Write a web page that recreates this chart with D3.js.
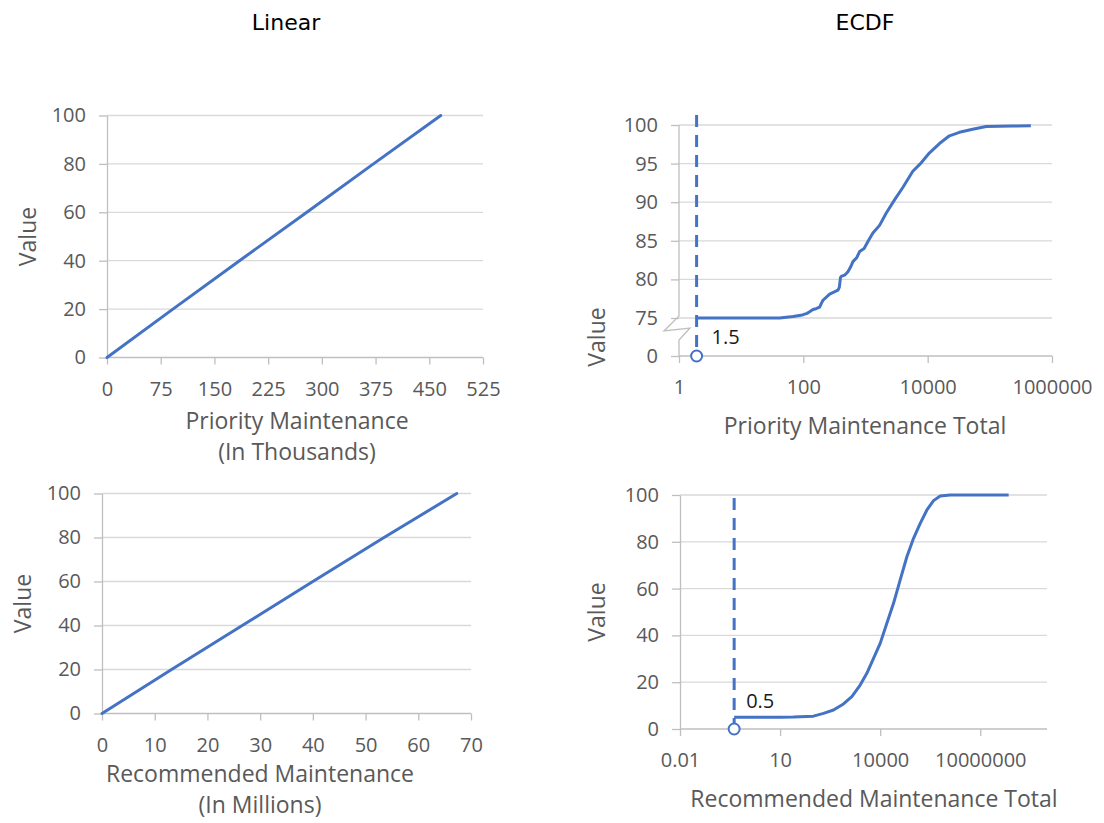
<!DOCTYPE html>
<html>
<head>
<meta charset="utf-8">
<script src="https://cdn.jsdelivr.net/npm/d3@7"></script>
<style>
  html, body { margin: 0; padding: 0; background: #fff; }
  svg { display: block; }
  .tick text { font-family: "Open Sans", sans-serif; font-size: 20px; fill: #595959; }
  .atitle { font-family: "Open Sans", sans-serif; font-size: 23px; fill: #595959; }
  .ptitle { font-family: "DejaVu Sans", sans-serif; font-size: 22px; fill: #000; }
  .ann { font-family: "Open Sans", sans-serif; font-size: 20px; fill: #1a1a1a; }
</style>
</head>
<body>
<svg id="chart" width="1104" height="823"></svg>
<script>
// ---------- data ----------
const panelTitles = ["Linear", "ECDF"];

// Linear – Priority Maintenance (in thousands)
const priorityLinX = [0, 92, 185, 279, 372, 466];
const priorityLinY = [0, 20, 40, 60, 80, 100];
const priorityLinTicksX = [0, 75, 150, 225, 300, 375, 450, 525];

// Linear – Recommended Maintenance (in millions)
const recommendedLinX = [0, 13.2, 26.6, 40.0, 53.5, 67.3];
const recommendedLinY = [0, 20, 40, 60, 80, 100];
const recommendedLinTicksX = [0, 10, 20, 30, 40, 50, 60, 70];

const linTicksY = [0, 20, 40, 60, 80, 100];

// ECDF – Priority Maintenance Total
const priorityEcdfX = [1.92, 41.7, 68.4, 96.6, 115, 126, 143, 160, 183, 195, 207, 265, 361, 380, 395, 408, 470, 522, 575, 628, 720, 804, 950, 1094, 1315, 1683, 2158, 2931, 3981, 5768, 7870, 10715, 15488, 22387, 32359, 52966, 87096, 232274, 457088];
const priorityEcdfY = [75, 75, 75.2, 75.4, 75.6, 75.8, 76.1, 76.2, 76.4, 76.9, 77.3, 78.1, 78.6, 79.0, 80.2, 80.4, 80.6, 81.0, 81.6, 82.3, 82.8, 83.6, 84.0, 84.9, 86.0, 87.0, 88.6, 90.3, 91.9, 94.0, 95.1, 96.4, 97.6, 98.6, 99.05, 99.44, 99.8, 99.87, 99.9];
const priorityEcdfTicksX = [1, 100, 10000, 1000000];
const priorityEcdfTicksY = [0, 75, 80, 85, 90, 95, 100];
const priorityMarker = 1.92;
const priorityMarkerLabel = "1.5";

// ECDF – Recommended Maintenance Total
const recommendedEcdfX = [0.42, 10, 25, 100, 200, 398, 794, 1413, 2512, 3981, 6310, 10000, 15849, 25119, 39811, 63096, 100000, 158489, 251189, 398107, 630957, 1258925, 70794578];
const recommendedEcdfY = [5, 5.0, 5.1, 5.5, 6.7, 8.1, 10.7, 13.8, 18.8, 23.8, 30.2, 36.6, 45.2, 53.7, 63.7, 73.6, 81.5, 87.9, 93.6, 97.6, 99.6, 100, 100];
const recommendedEcdfTicksX = [0.01, 10, 10000, 10000000];
const recommendedEcdfTicksY = [0, 20, 40, 60, 80, 100];
const recommendedMarker = 0.42;
const recommendedMarkerLabel = "0.5";

const axisTitles = {
  tl: ["Priority Maintenance", "(In Thousands)"],
  bl: ["Recommended Maintenance", "(In Millions)"],
  tr: ["Priority Maintenance Total"],
  br: ["Recommended Maintenance Total"]
};

// ---------- style ----------
const BLUE = "#4472C4";
const GRID = "#d9d9d9";
const AXIS = "#bfbfbf";

const svg = d3.select("#chart");

// panel titles
svg.append("text").attr("class", "ptitle").attr("x", 286).attr("y", 30).attr("text-anchor", "middle").text(panelTitles[0]);
svg.append("text").attr("class", "ptitle").attr("x", 865).attr("y", 30).attr("text-anchor", "middle").text(panelTitles[1]);

function styleAxis(g) {
  g.select(".domain").attr("stroke", AXIS).attr("stroke-width", 1.3);
  g.selectAll(".tick line").attr("stroke", AXIS).attr("stroke-width", 1.3);
}

function drawPanel(cfg) {
  const g = svg.append("g");
  const x = cfg.x, y = cfg.y;
  const [x0, x1] = x.range();
  // gridlines
  g.selectAll(".grid").data(cfg.yTicks.filter(d => d !== cfg.yTicks[0])).join("line")
    .attr("x1", x0).attr("x2", x1)
    .attr("y1", d => y(d)).attr("y2", d => y(d))
    .attr("stroke", GRID).attr("stroke-width", 1.3);

  // y axis
  const ya = g.append("g").attr("transform", `translate(${x0},0)`)
    .call(d3.axisLeft(y).tickValues(cfg.yTicks).tickSizeInner(8).tickSizeOuter(0).tickPadding(13).tickFormat(d => String(d)));
  styleAxis(ya);
  if (cfg.yBreak) {
    ya.select(".domain").remove();
    const yTop = y(cfg.yTicks[cfg.yTicks.length - 1]);
    const yb = cfg.yBreak;
    g.append("path")
      .attr("d", `M${x0},${yTop} L${x0},${yb - 6} L${x0 - 15},${yb + 9} L${x0 + 11},${yb + 6} L${x0},${yb + 18} L${x0},${y(0)}`)
      .attr("fill", "none").attr("stroke", AXIS).attr("stroke-width", 1.3);
  }

  // x axis
  const xa = g.append("g").attr("transform", `translate(0,${y.range()[0]})`)
    .call(d3.axisBottom(x).tickValues(cfg.xTicks).tickSizeInner(7).tickSizeOuter(0).tickPadding(17).tickFormat(d => String(d)));
  styleAxis(xa);
  xa.select(".domain").attr("d", `M${x0},0H${x1}`);

  // y axis title
  g.append("text").attr("class", "atitle")
    .attr("transform", `translate(${cfg.yTitleX},${(y.range()[0] + y.range()[1]) / 2}) rotate(-90)`)
    .attr("text-anchor", "middle").attr("dy", "0.35em").text("Value");
  // x axis title
  cfg.xTitle.forEach((t, i) => {
    g.append("text").attr("class", "atitle")
      .attr("x", cfg.xTitleX).attr("y", cfg.xTitleY + i * 31)
      .attr("text-anchor", "middle").attr("dy", "0.35em").text(t);
  });

  // series
  const line = d3.line().x(d => x(d[0])).y(d => y(d[1])).curve(d3.curveLinear);
  const pts = d3.zip(cfg.xs, cfg.ys);

  if (cfg.marker !== undefined) {
    const mx = x(cfg.marker);
    g.append("line").attr("x1", mx).attr("x2", mx)
      .attr("y1", cfg.dashTop).attr("y2", y(0) - 5)
      .attr("stroke", BLUE).attr("stroke-width", 3).attr("stroke-dasharray", "12,8");
    g.append("path").datum(pts).attr("d", line)
      .attr("fill", "none").attr("stroke", BLUE).attr("stroke-width", 3).attr("stroke-linejoin", "round");
    g.append("circle").attr("cx", mx).attr("cy", y(0)).attr("r", 5.5)
      .attr("fill", "#fff").attr("stroke", BLUE).attr("stroke-width", 2);
    g.append("text").attr("class", "ann").attr("x", mx + cfg.labelDx).attr("y", cfg.labelY)
      .attr("dy", "0.35em").text(cfg.markerLabel);
  } else {
    g.append("path").datum(pts).attr("d", line)
      .attr("fill", "none").attr("stroke", BLUE).attr("stroke-width", 3).attr("stroke-linecap", "round");
  }
}

// top-left
drawPanel({
  x: d3.scaleLinear().domain([0, 525]).range([107, 483]),
  y: d3.scaleLinear().domain([0, 100]).range([357.5, 115.5]),
  xTicks: priorityLinTicksX, yTicks: linTicksY,
  xs: priorityLinX, ys: priorityLinY,
  yTitleX: 28, xTitle: axisTitles.tl, xTitleX: 297, xTitleY: 421
});

// bottom-left
drawPanel({
  x: d3.scaleLinear().domain([0, 70]).range([102, 471]),
  y: d3.scaleLinear().domain([0, 100]).range([713.5, 493.5]),
  xTicks: recommendedLinTicksX, yTicks: linTicksY,
  xs: recommendedLinX, ys: recommendedLinY,
  yTitleX: 23, xTitle: axisTitles.bl, xTitleX: 260, xTitleY: 774
});

// top-right (broken y axis: 0 | 75..100)
drawPanel({
  x: d3.scaleLog().domain([1, 1000000]).range([679, 1052]),
  y: d3.scaleLinear().domain([0, 75, 100]).range([356, 318, 125]),
  xTicks: priorityEcdfTicksX, yTicks: priorityEcdfTicksY,
  xs: priorityEcdfX, ys: priorityEcdfY,
  yBreak: 322,
  yTitleX: 597, xTitle: axisTitles.tr, xTitleX: 865, xTitleY: 426,
  marker: priorityMarker, markerLabel: priorityMarkerLabel, dashTop: 115, labelDx: 15, labelY: 337
});

// bottom-right
drawPanel({
  x: d3.scaleLog().domain([0.01, 1e9]).range([680, 1047]),
  y: d3.scaleLinear().domain([0, 100]).range([729, 495]),
  xTicks: recommendedEcdfTicksX, yTicks: recommendedEcdfTicksY,
  xs: recommendedEcdfX, ys: recommendedEcdfY,
  yTitleX: 597, xTitle: axisTitles.br, xTitleX: 874, xTitleY: 799,
  marker: recommendedMarker, markerLabel: recommendedMarkerLabel, dashTop: 498, labelDx: 12, labelY: 701
});
</script>
</body>
</html>
